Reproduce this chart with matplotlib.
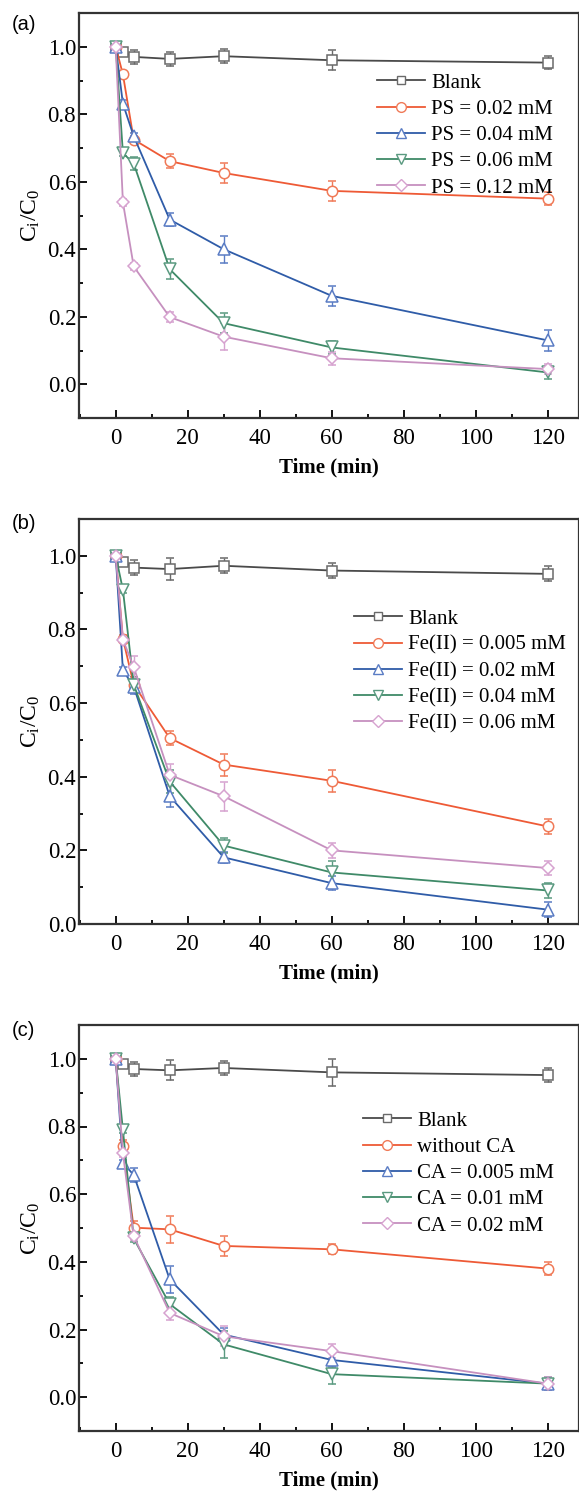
import matplotlib
matplotlib.use("Agg")
import matplotlib.pyplot as plt
from matplotlib.ticker import MultipleLocator
from matplotlib.lines import Line2D

plt.rcParams['font.family'] = ['Liberation Serif', 'DejaVu Serif']
plt.rcParams['mathtext.fontset'] = 'custom'
plt.rcParams['mathtext.rm'] = 'Liberation Serif'
plt.rcParams['mathtext.it'] = 'Liberation Serif'

time = [0, 2, 5, 15, 30, 60, 120]

# Panel (a)
a_labels = ["Blank", "PS = 0.02 mM", "PS = 0.04 mM", "PS = 0.06 mM", "PS = 0.12 mM"]
a_blank = [1.0, 0.985, 0.970, 0.964, 0.972, 0.960, 0.953]
a_ps002 = [1.0, 0.918, 0.725, 0.661, 0.626, 0.573, 0.550]
a_ps004 = [1.0, 0.831, 0.735, 0.488, 0.400, 0.262, 0.130]
a_ps006 = [1.0, 0.685, 0.654, 0.341, 0.181, 0.109, 0.035]
a_ps012 = [1.0, 0.539, 0.349, 0.199, 0.141, 0.077, 0.045]
a_err_blank = [0.0, 0.005, 0.02, 0.02, 0.02, 0.03, 0.02]
a_err_ps002 = [0.0, 0.01, 0.01, 0.02, 0.03, 0.03, 0.02]
a_err_ps004 = [0.0, 0.01, 0.01, 0.02, 0.04, 0.03, 0.03]
a_err_ps006 = [0.0, 0.01, 0.02, 0.03, 0.03, 0.02, 0.02]
a_err_ps012 = [0.0, 0.01, 0.01, 0.015, 0.04, 0.02, 0.015]

# Panel (b)
b_labels = ["Blank", "Fe(II) = 0.005 mM", "Fe(II) = 0.02 mM", "Fe(II) = 0.04 mM", "Fe(II) = 0.06 mM"]
b_blank = [1.0, 0.984, 0.968, 0.964, 0.973, 0.960, 0.951]
b_fe0005 = [1.0, 0.775, 0.650, 0.505, 0.433, 0.389, 0.265]
b_fe002 = [1.0, 0.689, 0.645, 0.347, 0.181, 0.111, 0.039]
b_fe004 = [1.0, 0.908, 0.650, 0.387, 0.213, 0.140, 0.091]
b_fe006 = [1.0, 0.772, 0.698, 0.405, 0.347, 0.200, 0.152]
b_err_blank = [0.0, 0.005, 0.02, 0.03, 0.02, 0.02, 0.02]
b_err_fe0005 = [0.0, 0.01, 0.02, 0.02, 0.03, 0.03, 0.02]
b_err_fe002 = [0.0, 0.01, 0.02, 0.03, 0.015, 0.02, 0.02]
b_err_fe004 = [0.0, 0.01, 0.02, 0.03, 0.02, 0.03, 0.02]
b_err_fe006 = [0.0, 0.01, 0.03, 0.03, 0.04, 0.02, 0.02]

# Panel (c)
c_labels = ["Blank", "without CA", "CA = 0.005 mM", "CA = 0.01 mM", "CA = 0.02 mM"]
c_blank = [1.0, 0.986, 0.970, 0.966, 0.973, 0.960, 0.952]
c_noca = [1.0, 0.741, 0.501, 0.496, 0.447, 0.437, 0.380]
c_ca0005 = [1.0, 0.692, 0.657, 0.348, 0.185, 0.110, 0.040]
c_ca001 = [1.0, 0.790, 0.469, 0.275, 0.156, 0.068, 0.040]
c_ca002 = [1.0, 0.721, 0.476, 0.249, 0.180, 0.136, 0.040]
c_err_blank = [0.0, 0.005, 0.02, 0.03, 0.02, 0.04, 0.02]
c_err_noca = [0.0, 0.02, 0.02, 0.04, 0.03, 0.015, 0.02]
c_err_ca0005 = [0.0, 0.01, 0.02, 0.04, 0.02, 0.02, 0.02]
c_err_ca001 = [0.0, 0.01, 0.01, 0.02, 0.04, 0.03, 0.02]
c_err_ca002 = [0.0, 0.01, 0.01, 0.02, 0.03, 0.02, 0.02]

line_colors = ['#4a4a4a', '#ee5a36', '#2f5ca8', '#3f8a68', '#c690bf']
edge_colors = ['#6a6a6a', '#f07a58', '#5a7cc4', '#5a9a80', '#d6a2cf']
markers = ['s', 'o', '^', 'v', 'D']
msizes = [6.5, 7.5, 8, 8, 6.5]
leg_msizes = [5.5, 7, 7, 7, 6]

W, H = 579, 1493
fig = plt.figure(figsize=(W / 100, H / 100), dpi=100)

panels = [
    dict(tag='(a)', tag_y=25, top=13, bottom=418, ylim=(-0.1, 1.1),
         ys=[a_blank, a_ps002, a_ps004, a_ps006, a_ps012],
         es=[a_err_blank, a_err_ps002, a_err_ps004, a_err_ps006, a_err_ps012],
         labels=a_labels, leg=(377, 73)),
    dict(tag='(b)', tag_y=524, top=519, bottom=924, ylim=(0.0, 1.1),
         ys=[b_blank, b_fe0005, b_fe002, b_fe004, b_fe006],
         es=[b_err_blank, b_err_fe0005, b_err_fe002, b_err_fe004, b_err_fe006],
         labels=b_labels, leg=(354, 609)),
    dict(tag='(c)', tag_y=1030, top=1025, bottom=1431, ylim=(-0.1, 1.1),
         ys=[c_blank, c_noca, c_ca0005, c_ca001, c_ca002],
         es=[c_err_blank, c_err_noca, c_err_ca0005, c_err_ca001, c_err_ca002],
         labels=c_labels, leg=(363, 1111)),
]

left_px, right_px = 79, 579
for p in panels:
    ax = fig.add_axes([left_px / W, 1 - p['bottom'] / H,
                       (right_px - left_px) / W, (p['bottom'] - p['top']) / H])
    handles = []
    for i in range(5):
        ax.errorbar(time, p['ys'][i], yerr=p['es'][i], color=line_colors[i],
                    lw=1.3, marker=markers[i], ms=msizes[i], mfc='white',
                    mec=edge_colors[i], mew=1.1, ecolor=edge_colors[i],
                    elinewidth=1.0, capsize=3.2, capthick=1.0)
        handles.append(Line2D([], [], color=line_colors[i], lw=1.3,
                              marker=markers[i], ms=leg_msizes[i], mfc='white',
                              mec=edge_colors[i], mew=1.0))
    ax.set_xlim(-10.2, 128.7)
    ax.set_ylim(*p['ylim'])
    ax.xaxis.set_major_locator(MultipleLocator(20))
    ax.xaxis.set_minor_locator(MultipleLocator(10))
    ax.yaxis.set_major_locator(MultipleLocator(0.2))
    ax.yaxis.set_minor_locator(MultipleLocator(0.1))
    ax.yaxis.set_major_formatter(matplotlib.ticker.FormatStrFormatter('%.1f'))
    ax.tick_params(which='both', direction='in', top=False, right=False,
                   labelsize=16.5, width=1.3)
    ax.tick_params(which='major', length=6)
    ax.tick_params(which='minor', length=3)
    ax.tick_params(axis='x', pad=7)
    ax.tick_params(axis='y', pad=2)
    for s in ax.spines.values():
        s.set_linewidth(1.6)
        s.set_color('#333333')
    ax.set_xlabel('Time (min)', fontsize=15, fontweight='bold', labelpad=6)
    ax.set_ylabel(r'C$_{\rm i}$/C$_{\rm 0}$', fontsize=17, labelpad=4)
    lx, ly = p['leg']
    ax.legend(handles, p['labels'], loc='upper left',
              bbox_to_anchor=(lx / W, 1 - ly / H), bbox_transform=fig.transFigure,
              frameon=False, fontsize=15, handlelength=2.3, handletextpad=0.3,
              labelspacing=0.32, borderpad=0, borderaxespad=0)
    fig.text(12 / W, 1 - p['tag_y'] / H, p['tag'], fontsize=14.5,
             family='Liberation Sans', va='center', ha='left')

fig.savefig('out.png', dpi=100)
